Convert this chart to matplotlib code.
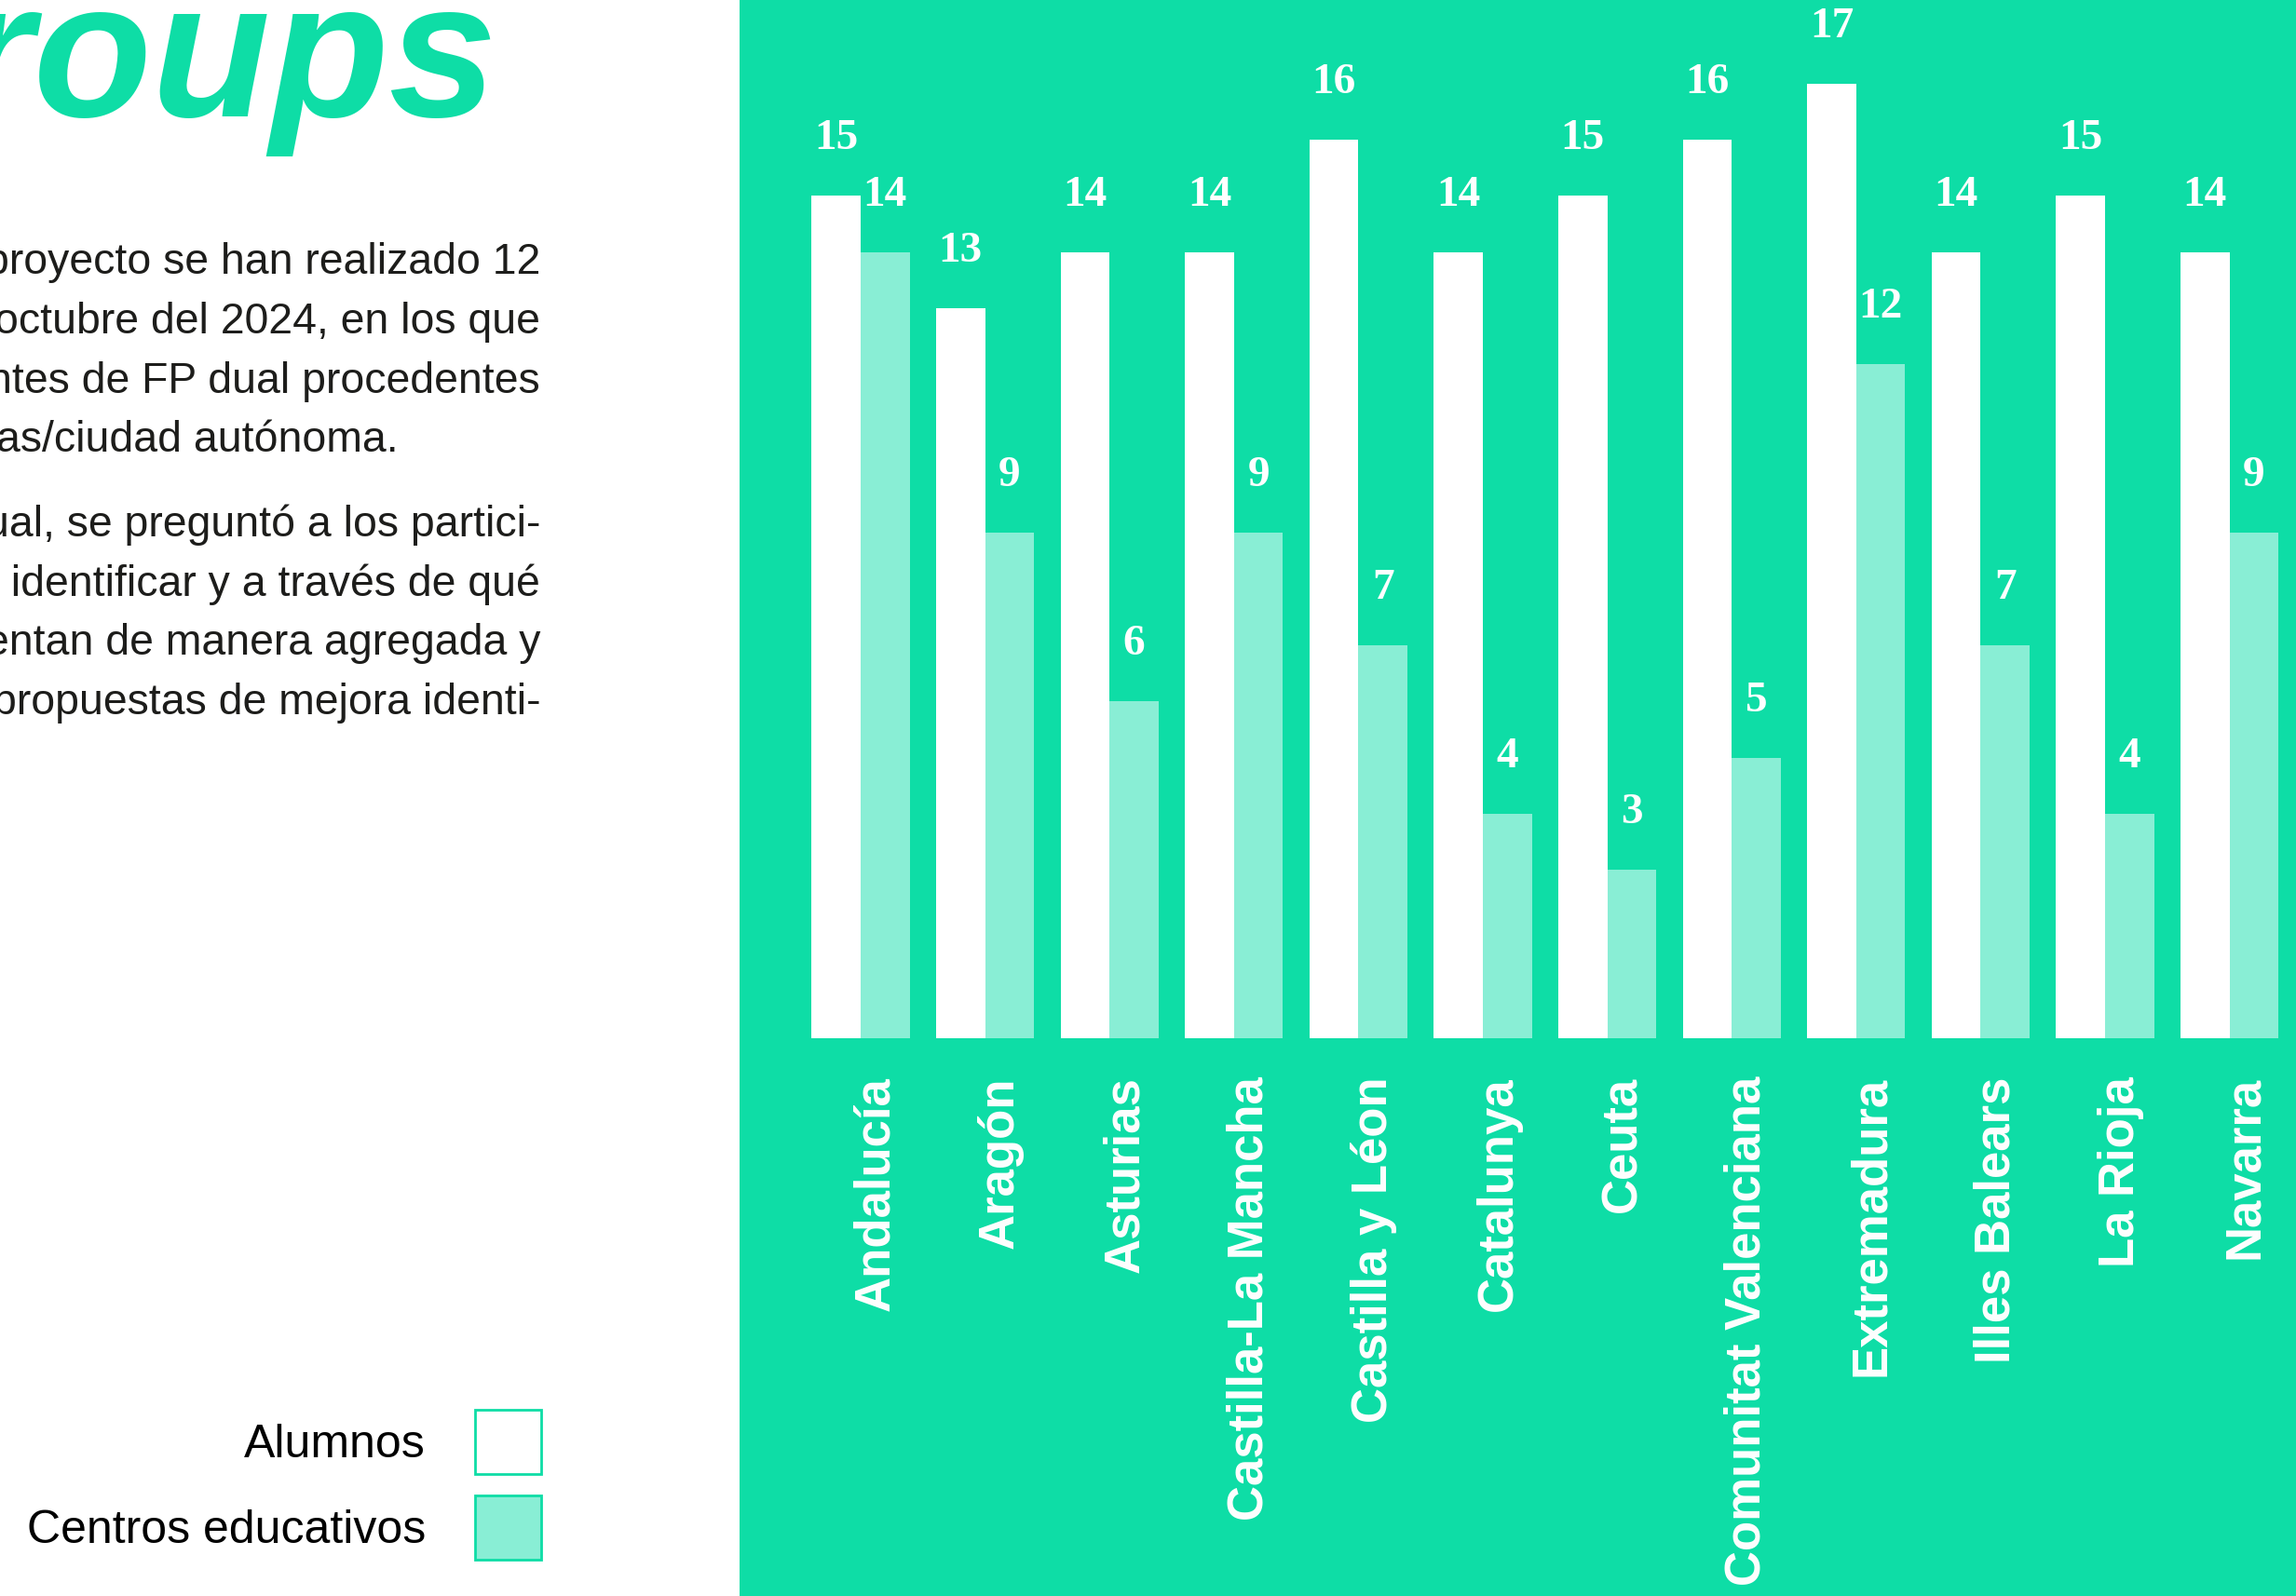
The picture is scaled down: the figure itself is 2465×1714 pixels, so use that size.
import numpy as np
import matplotlib.pyplot as plt
from matplotlib.patches import Patch

# datos
regiones = ["Andalucía", "Aragón", "Asturias", "Castilla-La Mancha", "Castilla y Léon",
            "Catalunya", "Ceuta", "Comunitat Valenciana", "Extremadura", "Illes Balears",
            "La Rioja", "Navarra"]
alumnos = [15, 13, 14, 14, 16, 14, 15, 16, 17, 14, 15, 14]
centros = [14, 9, 6, 9, 7, 4, 3, 5, 12, 7, 4, 9]

texto = [
    "proyecto se han realizado 12",
    "octubre del 2024, en los que",
    "ntes de FP dual procedentes",
    "as/ciudad autónoma.",
    "ual, se preguntó a los partici-",
    "n identificar y a través de qué",
    "entan de manera agregada y",
    "propuestas de mejora identi-",
]

GREEN = '#0EDDA6'
LIGHT = '#89EED5'
W, H = 2465, 1714

fig = plt.figure(figsize=(W / 100, H / 100), dpi=100)
fig.patch.set_facecolor('white')

# panel verde con el grafico
ax = fig.add_axes([794 / W, 0, (W - 794) / W, 1])
ax.set_facecolor(GREEN)
ax.set_xlim(-0.973, 11.534)
ax.set_ylim(-9.93, 18.49)
ax.set_xticks([])
ax.set_yticks([])
for s in ax.spines.values():
    s.set_visible(False)

x = np.arange(len(regiones))
w = 0.394
ax.bar(x - w / 2, alumnos, w, color='white', linewidth=0)
ax.bar(x + w / 2, centros, w, color=LIGHT, linewidth=0)

for xi, a, c in zip(x, alumnos, centros):
    ax.text(xi - w / 2, a + 0.83, str(a), ha='center', va='baseline', color='white',
            fontsize=34, fontweight='bold', family='Liberation Serif')
    ax.text(xi + w / 2, c + 0.83, str(c), ha='center', va='baseline', color='white',
            fontsize=34, fontweight='bold', family='Liberation Serif')

for xi, r in zip(x, regiones):
    ax.text(xi + 0.124, -0.68, r, rotation=90, ha='center', va='top', color='white',
            fontsize=38, fontweight='bold', family='Liberation Sans')

# titulo (cortado por el borde)
fig.text(533 / W, 1 - 125 / H, "Focus groups", ha='right', va='baseline', color=GREEN,
         fontsize=150, fontweight='bold', fontstyle='italic', family='Liberation Sans')

# parrafo
baselines = [294, 358, 422, 485, 576, 640, 703, 767]
for linea, yb in zip(texto, baselines):
    xr = 428 if linea.endswith('autónoma.') else 580
    fig.text(xr / W, 1 - yb / H, linea, ha='right', va='baseline', color='#1d1d1b',
             fontsize=33.4, family='Liberation Sans')

# leyenda
handles = [Patch(facecolor='white', edgecolor=GREEN, linewidth=2),
           Patch(facecolor=LIGHT, edgecolor=GREEN, linewidth=2)]
fig.legend(handles, ["Alumnos", "Centros educativos"], loc='upper right',
           bbox_to_anchor=(581 / W, 1 - 1514 / H), markerfirst=False, frameon=False,
           borderpad=0, borderaxespad=0, handlelength=1.42,
           handleheight=1.746, handletextpad=1.06, labelspacing=0.46,
           prop={'family': 'Liberation Sans', 'size': 36})

fig.savefig('out.png', dpi=100)
